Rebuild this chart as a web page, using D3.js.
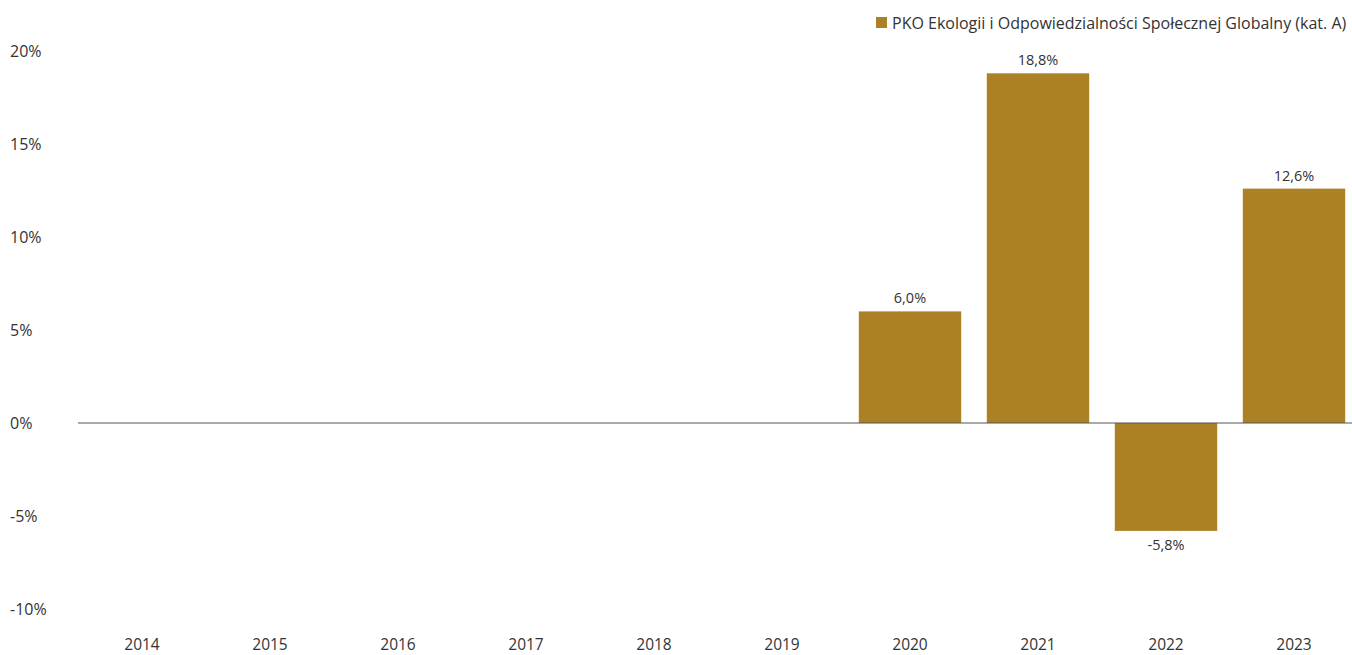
<!DOCTYPE html>
<html><head><meta charset="utf-8">
<script src="https://cdn.jsdelivr.net/npm/d3@7"></script>
<style>body{margin:0;background:#fff}svg text{font-family:"Open Sans",sans-serif}</style>
</head><body><svg id="c" width="1352" height="655"></svg>
<script>
const categories = ["2014","2015","2016","2017","2018","2019","2020","2021","2022","2023"];
const values = [null,null,null,null,null,null,6.0,18.8,-5.8,12.6];
const yTicks = [20,15,10,5,0,-5,-10];
const seriesName = "PKO Ekologii i Odpowiedzialności Społecznej Globalny (kat. A)";
const color = "#AC8024";

const svg = d3.select("#c");
const x = d3.scaleBand().domain(categories).range([78,1358]).paddingInner(0.2).paddingOuter(0.1);
const y = d3.scaleLinear().domain([-10,20]).range([609,51]);
const fmt = v => (v<0?"-":"") + Math.abs(v).toFixed(1).replace(".",",") + "%";

svg.append("g").selectAll("text").data(yTicks).join("text")
  .attr("x",10).attr("y",d=>y(d)).attr("dy","0.35em")
  .attr("font-size",16).attr("fill","#333").text(d=>d+"%");

const data = categories.map((c,i)=>({c,v:values[i]})).filter(d=>d.v!=null);
svg.append("g").selectAll("rect").data(data).join("rect")
  .attr("x",d=>x(d.c)).attr("width",x.bandwidth())
  .attr("y",d=>y(Math.max(0,d.v))).attr("height",d=>Math.abs(y(d.v)-y(0)))
  .attr("fill",color);

svg.append("line").attr("x1",78).attr("x2",1352).attr("y1",y(0)).attr("y2",y(0))
  .attr("stroke","#555").attr("stroke-width",1);

svg.append("g").selectAll("text").data(data).join("text")
  .attr("x",d=>x(d.c)+x.bandwidth()/2)
  .attr("y",d=>d.v>=0? y(d.v)-8 : y(d.v)+19)
  .attr("text-anchor","middle").attr("font-size",14.5).attr("fill","#333").text(d=>fmt(d.v));

svg.append("g").selectAll("text").data(categories).join("text")
  .attr("x",d=>x(d)+x.bandwidth()/2).attr("y",650)
  .attr("text-anchor","middle").attr("font-size",15.5).attr("fill","#333").text(d=>d);

const lg = svg.append("g");
lg.append("rect").attr("x",876).attr("y",17).attr("width",11).attr("height",11).attr("fill",color);
lg.append("text").attr("x",892).attr("y",23).attr("dy","0.35em").attr("font-size",16).attr("fill","#333").text(seriesName);
</script></body></html>
